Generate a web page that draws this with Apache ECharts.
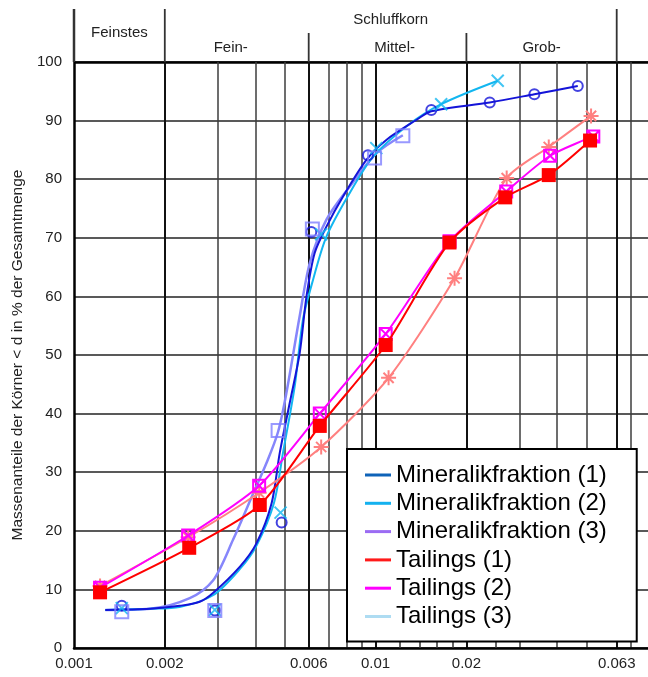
<!DOCTYPE html>
<html>
<head>
<meta charset="utf-8">
<script src="https://cdn.jsdelivr.net/npm/echarts@6/dist/echarts.min.js"></script>
<style>
  html, body { margin: 0; padding: 0; background: #fff; }
  #chart { width: 648px; height: 677px; }
</style>
</head>
<body>
<div id="chart"></div>
<script>
// Korngrößenverteilung (Schlämmanalyse): Mineralikfraktion und Tailings
const FONT = '"Liberation Sans", Arial, Helvetica, sans-serif';

// ---- Messpunkte (Korndurchmesser d in mm, Massenanteil in %) ----
const mineral1X = [0.00144, 0.00293, 0.00488, 0.00612, 0.00943, 0.0153, 0.0239, 0.0336, 0.0468];
const mineral1Y = [7.2, 6.4, 21.4, 71.0, 84.1, 91.8, 93.1, 94.5, 95.9];

const mineral2X = [0.00144, 0.00293, 0.00484, 0.0066, 0.01005, 0.0165, 0.0254];
const mineral2Y = [6.8, 6.5, 23.1, 70.6, 85.3, 92.8, 96.8];

const mineral3X = [0.00144, 0.00293, 0.00475, 0.00617, 0.00992, 0.01231];
const mineral3Y = [6.2, 6.4, 37.1, 71.5, 83.6, 87.4];

const tailings1X = [0.00122, 0.00241, 0.00413, 0.00653, 0.0108, 0.01758, 0.0269, 0.0375, 0.0514];
const tailings1Y = [9.5, 17.1, 24.4, 37.9, 51.7, 69.2, 76.9, 80.7, 86.6];

const tailings2X = [0.00122, 0.00239, 0.00411, 0.00653, 0.0108, 0.01758, 0.0271, 0.0379, 0.0527];
const tailings2Y = [10.3, 19.2, 27.7, 40.0, 53.6, 69.4, 77.9, 84.0, 87.3];

const tailings3X = [0.00122, 0.00239, 0.00411, 0.0066, 0.01104, 0.01827, 0.0272, 0.0375, 0.0518];
const tailings3Y = [10.6, 18.9, 26.5, 34.3, 46.1, 63.1, 80.2, 85.5, 90.8];

// ---- Ausgleichskurven der Mineralikfraktionen ----
const fit1X = [0.00127, 0.00179, 0.00224, 0.00261, 0.00289, 0.00355, 0.00403, 0.00452, 0.00481, 0.00519, 0.0056, 0.0059, 0.00628, 0.00687, 0.00779, 0.00932, 0.01085, 0.01364, 0.0153, 0.0239, 0.0336, 0.0468];
const fit1Y = [6.5, 6.7, 7.2, 7.9, 9.4, 13.9, 17.9, 24.7, 33.3, 41.8, 50.3, 60.0, 67.4, 71.9, 77.0, 83.3, 86.7, 90.1, 91.6, 93.1, 94.5, 95.9];

const fit2X = [0.00127, 0.00179, 0.00224, 0.00289, 0.00355, 0.00403, 0.0046, 0.00493, 0.00539, 0.00574, 0.0062, 0.00687, 0.0082, 0.0098, 0.01264, 0.0165, 0.0254];
const fit2Y = [6.5, 6.7, 7.0, 9.0, 13.5, 17.5, 24.7, 33.3, 44.6, 56.0, 62.8, 70.2, 77.6, 83.8, 89.0, 92.8, 96.8];

const fit3X = [0.00127, 0.00179, 0.00242, 0.00289, 0.00337, 0.00393, 0.00435, 0.00475, 0.00506, 0.0056, 0.00605, 0.00687, 0.0082, 0.01005, 0.01231];
const fit3Y = [6.5, 6.7, 8.5, 11.5, 18.5, 26.4, 31.6, 36.9, 43.5, 56.6, 65.7, 73.1, 78.7, 84.4, 87.5];

// ---- Achsen ----
const xMin = 0.001;
const xMax = 0.08;
const xLabelValues = [0.001, 0.002, 0.006, 0.01, 0.02, 0.063];
const xLabelTexts = ['0.001', '0.002', '0.006', '0.01', '0.02', '0.063'];
const xMajorLines = [0.002, 0.006, 0.01, 0.02, 0.063];
const xMinorLines = [0.003, 0.004, 0.005, 0.007, 0.008, 0.009, 0.03, 0.04, 0.05, 0.07];
const xShortTicks = [0.012, 0.014, 0.016, 0.018, 0.025];
const yMin = 0, yMax = 100, yStep = 10;
const yTitle = 'Massenanteile der Körner < d in % der Gesamtmenge';

// ---- Kornbereiche im Kopf ----
const headerTop = [
  { text: 'Feinstes', from: 0.001, to: 0.002 },
  { text: 'Schluffkorn', from: 0.002, to: 0.063 }
];
const headerSub = [
  { text: 'Fein-', from: 0.002, to: 0.006, shift: -6 },
  { text: 'Mittel-', from: 0.006, to: 0.02, shift: 7 },
  { text: 'Grob-', from: 0.02, to: 0.063, shift: 0 }
];
const headerDividers = [
  { at: 0.001, long: true },
  { at: 0.002, long: true },
  { at: 0.006, long: false },
  { at: 0.02, long: false },
  { at: 0.063, long: true }
];

// ---- Legende ----
const legendNames = ['Mineralikfraktion (1)', 'Mineralikfraktion (2)', 'Mineralikfraktion (3)',
                     'Tailings (1)', 'Tailings (2)', 'Tailings (3)'];
const legendColors = ['#0f63b8', '#14b1ef', '#9b6cf3', '#ff1a1a', '#ff00ff', '#aedcf2'];

const zip = (xs, ys) => xs.map((x, i) => [x, ys[i]]);

const SYM_CROSS = 'path://M0,0L10,10M10,0L0,10';
const SYM_BOXCROSS = 'path://M0,0L10,0L10,10L0,10ZM0,0L10,10M10,0L0,10';
const SYM_STAR = 'path://M5,0L5,10M0,5L10,5M1.6,1.6L8.4,8.4M8.4,1.6L1.6,8.4';

function fitCurve(name, xs, ys, color, width, z) {
  return {
    type: 'line', name, data: zip(xs, ys), xAxisIndex: 0, yAxisIndex: 0,
    smooth: 0.3, showSymbol: false, symbol: 'none',
    lineStyle: { color, width }, itemStyle: { color }, z, silent: true
  };
}
function pointSet(name, xs, ys, symbol, size, color, z) {
  return {
    type: 'scatter', name, data: zip(xs, ys), xAxisIndex: 0, yAxisIndex: 0,
    symbol, symbolSize: size,
    itemStyle: { color: 'rgba(0,0,0,0)', borderColor: color, borderWidth: 2 },
    z, silent: true
  };
}
function tailingLine(name, xs, ys, color, symbol, size, filled, z) {
  return {
    type: 'line', name, data: zip(xs, ys), xAxisIndex: 0, yAxisIndex: 0,
    smooth: 0.25, showSymbol: true, symbol, symbolSize: size,
    lineStyle: { color, width: 2 },
    itemStyle: filled ? { color } : { color: 'rgba(0,0,0,0)', borderColor: color, borderWidth: 2 },
    z, silent: true
  };
}

function xAxisLayer(values, lineStyle, extra) {
  return Object.assign({
    type: 'log', logBase: 10, min: xMin, max: xMax, gridIndex: 0, position: 'bottom',
    axisLine: { show: false },
    axisTick: { show: false, customValues: values },
    axisLabel: { show: false },
    splitLine: { show: true, lineStyle },
    minorSplitLine: { show: false }
  }, extra || {});
}

const chart = echarts.init(document.getElementById('chart'), null, { renderer: 'canvas' });

const option = {
  animation: false,
  backgroundColor: '#ffffff',
  textStyle: { fontFamily: FONT },
  grid: { left: 74, right: 0, top: 62, bottom: 29, containLabel: false },
  xAxis: [
    // dünne Rasterlinien + Beschriftung
    xAxisLayer(xMinorLines, { color: '#3c3c3c', width: 1.5 }, {
      axisLine: { show: true, lineStyle: { color: '#000', width: 2.5 } },
      axisLabel: {
        show: true, customValues: xLabelValues, margin: 8,
        color: '#222', fontSize: 15, fontFamily: FONT,
        formatter: v => {
          const i = xLabelValues.findIndex(t => Math.abs(t - v) / t < 1e-6);
          return i >= 0 ? xLabelTexts[i] : '';
        }
      }
    }),
    // kräftige Rasterlinien
    xAxisLayer(xMajorLines, { color: '#111', width: 2 }),
    // kurze Teilstriche an der Abszisse
    xAxisLayer(xShortTicks, { show: false }, {
      splitLine: { show: false },
      axisTick: { show: true, inside: true, length: 7, customValues: xShortTicks, lineStyle: { color: '#333', width: 1.5 } }
    })
  ],
  yAxis: [
    {
      type: 'value', min: yMin, max: yMax, interval: yStep, gridIndex: 0, position: 'left',
      name: yTitle, nameLocation: 'middle', nameRotate: 90, nameGap: 42,
      nameTextStyle: { color: '#222', fontSize: 15.5, fontFamily: FONT },
      axisLine: { show: true, lineStyle: { color: '#000', width: 2.5 } },
      axisTick: { show: false },
      axisLabel: { color: '#222', fontSize: 15, margin: 12, fontFamily: FONT },
      splitLine: { show: true, lineStyle: { color: '#222', width: 1.5 } }
    },
    {
      type: 'value', min: yMin, max: yMax, gridIndex: 0, position: 'left',
      axisLine: { show: false }, axisLabel: { show: false },
      axisTick: { show: false, customValues: [yMax] },
      splitLine: { show: true, lineStyle: { color: '#000', width: 2.5 } }
    }
  ],
  legend: {
    orient: 'vertical', left: 347, top: 449,
    padding: [14, 30, 13, 18],
    backgroundColor: '#fff', borderColor: '#000', borderWidth: 2, borderRadius: 0,
    icon: 'rect', itemWidth: 26, itemHeight: 3, itemGap: 4.3,
    textStyle: { color: '#000', fontSize: 24, lineHeight: 24, fontFamily: FONT },
    selectedMode: false,
    data: legendNames.map((n, i) => ({
      name: n, icon: 'rect',
      itemStyle: { color: legendColors[i], borderWidth: 0, opacity: 1 }
    }))
  },
  series: [
    fitCurve('Mineralikfraktion (1)', fit1X, fit1Y, '#1414d8', 2, 6),
    fitCurve('Mineralikfraktion (2)', fit2X, fit2Y, '#12b6f0', 2, 5),
    fitCurve('Mineralikfraktion (3)', fit3X, fit3Y, '#8686fb', 2.5, 4),
    pointSet('Messwerte Mineralikfraktion (1)', mineral1X, mineral1Y, 'circle', 10, '#1414d8', 7),
    pointSet('Messwerte Mineralikfraktion (2)', mineral2X, mineral2Y, SYM_CROSS, 12, '#12b6f0', 7),
    pointSet('Messwerte Mineralikfraktion (3)', mineral3X, mineral3Y, 'rect', 13, '#8080ff', 7),
    tailingLine('Tailings (3)', tailings3X, tailings3Y, '#ff8080', SYM_STAR, 15, false, 8),
    tailingLine('Tailings (2)', tailings2X, tailings2Y, '#ff00ff', SYM_BOXCROSS, 12, false, 9),
    tailingLine('Tailings (1)', tailings1X, tailings1Y, '#ff0000', 'rect', 14, true, 10)
  ]
};

chart.setOption(option);

// Kopfzeile mit den Kornbereichen, an der Abszisse ausgerichtet
const px = v => chart.convertToPixel({ xAxisIndex: 0 }, v);
const yTopPx = chart.convertToPixel({ yAxisIndex: 0 }, yMax);
const graphics = [];
headerDividers.forEach(d => {
  const x = px(d.at);
  graphics.push({
    type: 'line', silent: true, z: 10,
    shape: { x1: x, y1: d.long ? 9 : 33, x2: x, y2: yTopPx },
    style: { stroke: '#333', lineWidth: d.at === xMin ? 2.5 : 1.8 }
  });
});
headerTop.forEach(h => {
  graphics.push({
    type: 'text', silent: true, z: 10,
    x: (px(h.from) + px(h.to)) / 2, y: h.text === 'Feinstes' ? 33 : 20,
    style: { text: h.text, fill: '#222', font: '15px ' + FONT, align: 'center', verticalAlign: 'middle' }
  });
});
headerSub.forEach(h => {
  graphics.push({
    type: 'text', silent: true, z: 10,
    x: (px(h.from) + px(h.to)) / 2 + h.shift, y: 48,
    style: { text: h.text, fill: '#222', font: '15px ' + FONT, align: 'center', verticalAlign: 'middle' }
  });
});
chart.setOption({ graphic: graphics });
</script>
</body>
</html>
